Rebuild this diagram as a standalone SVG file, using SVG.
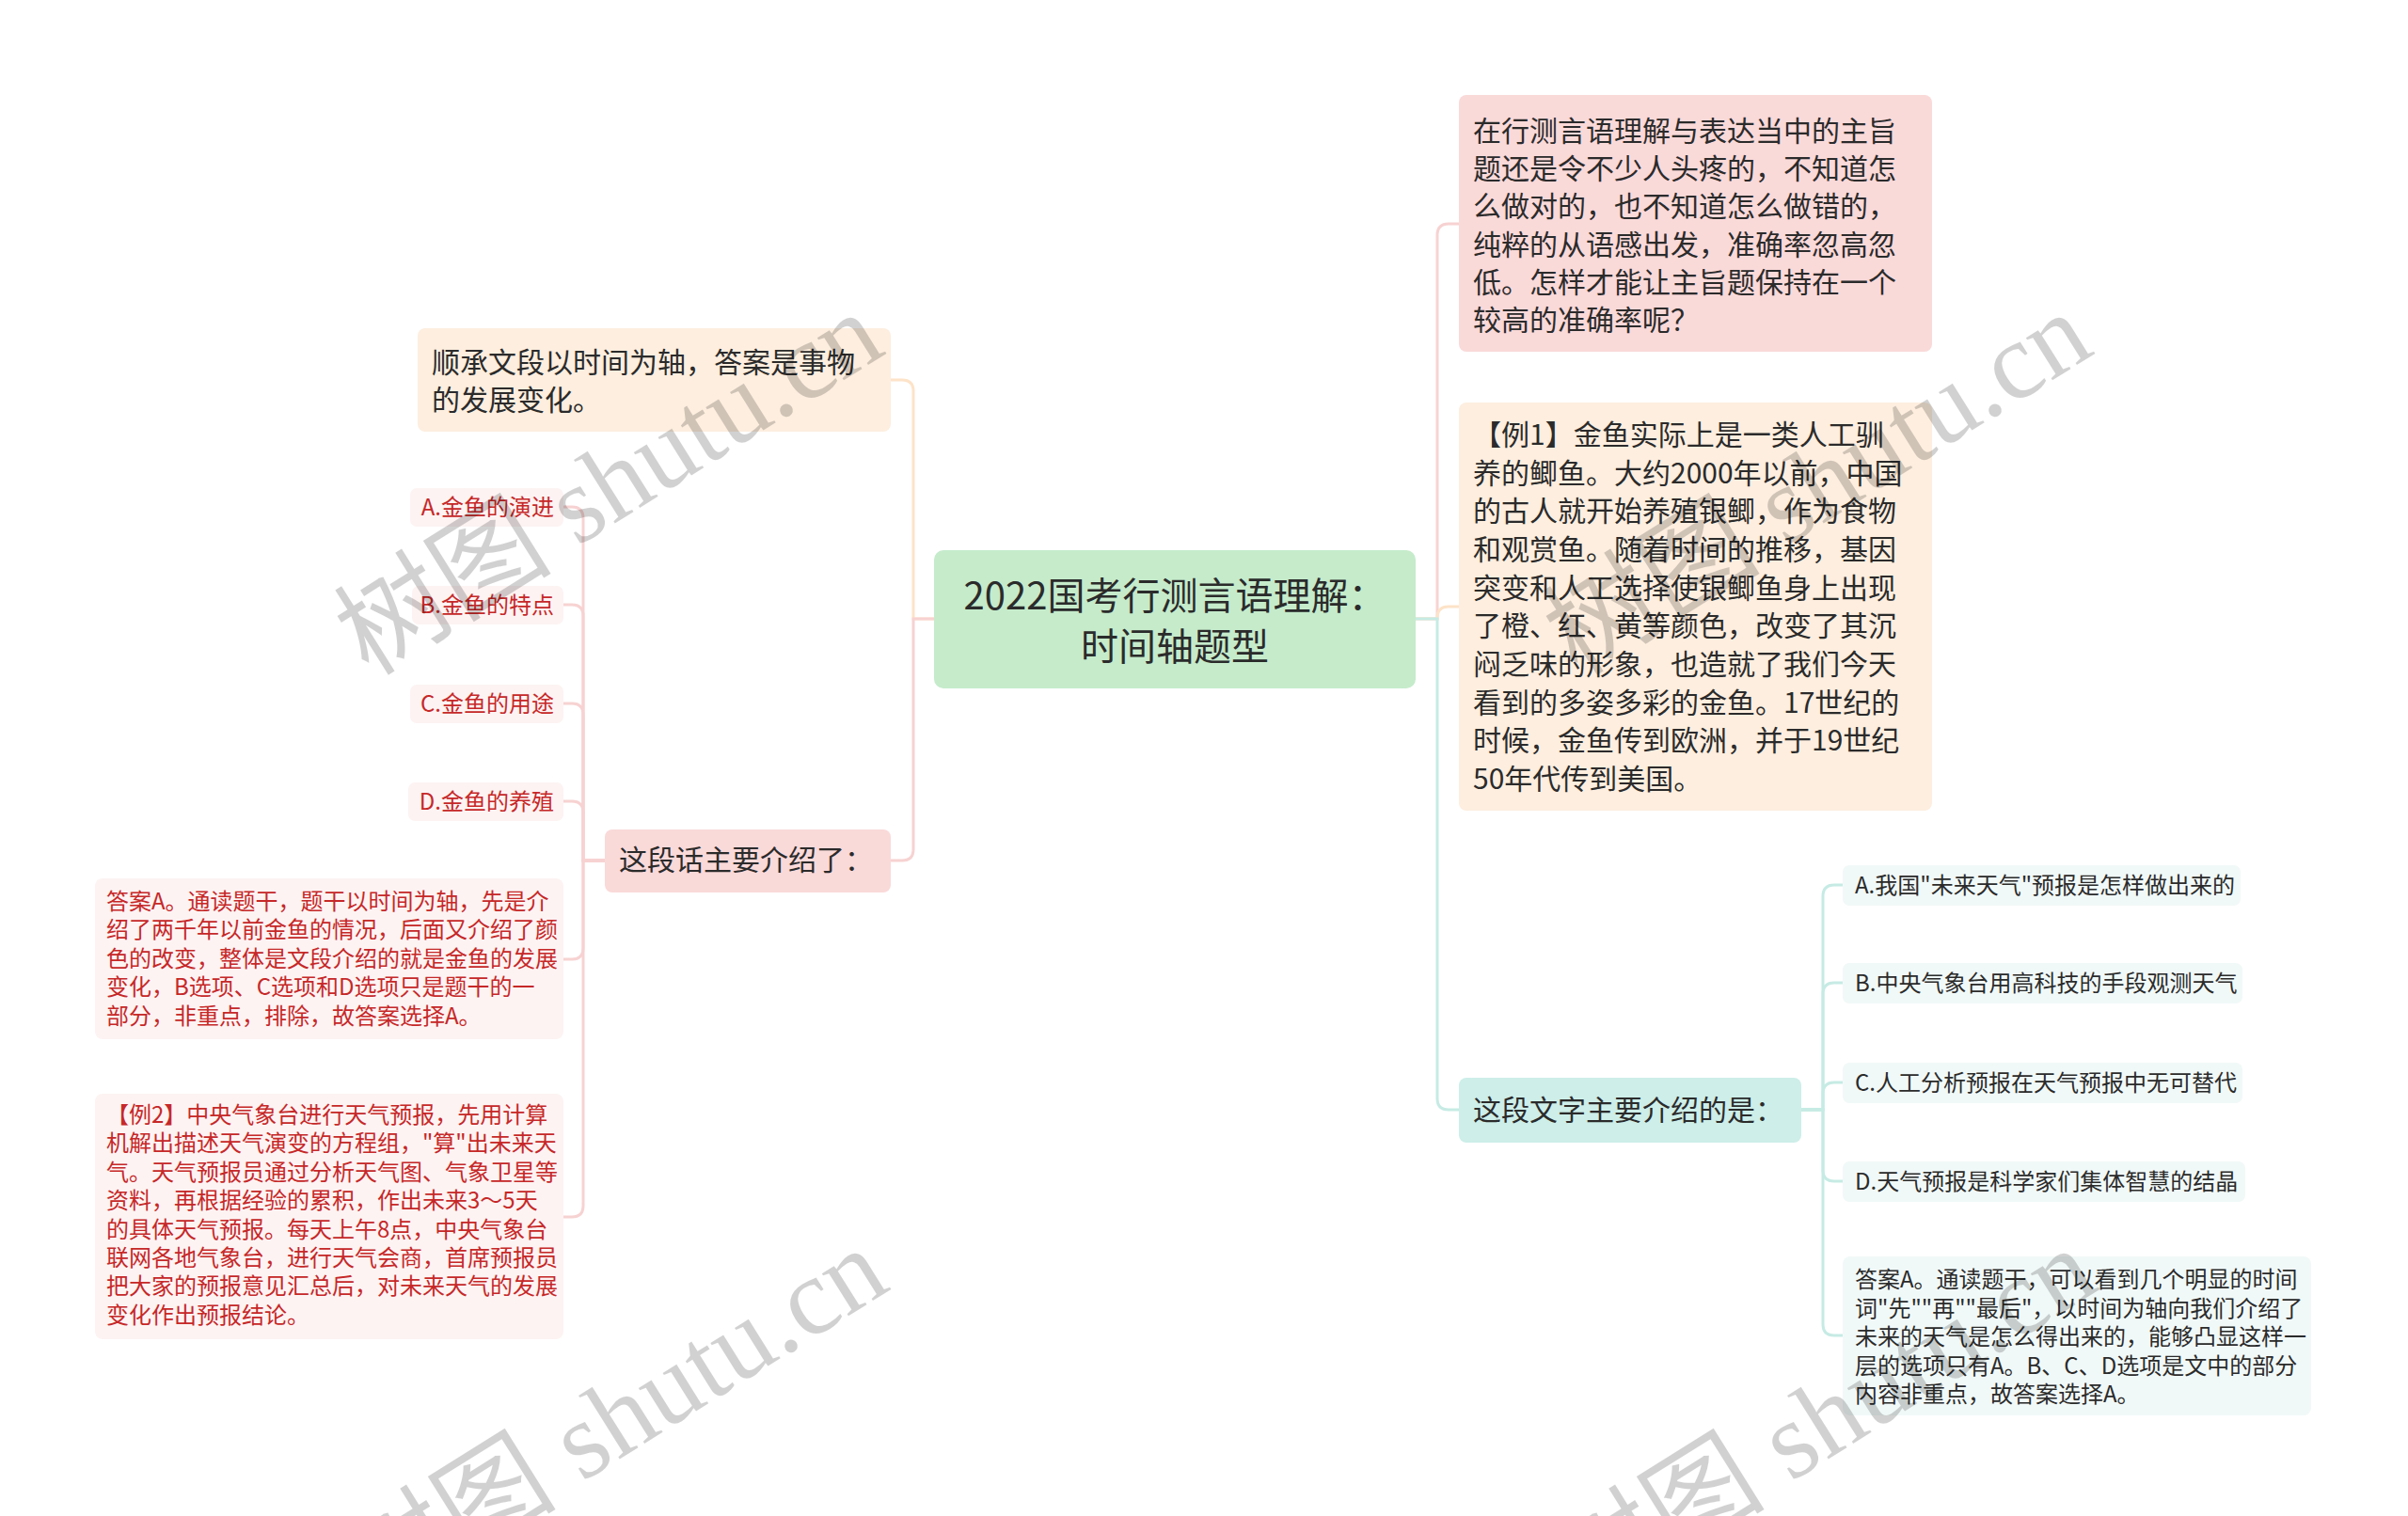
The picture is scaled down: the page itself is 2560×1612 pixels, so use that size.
<svg xmlns="http://www.w3.org/2000/svg" width="2560" height="1612" viewBox="0 0 2560 1612">
<style>
  .t { font-family: "Noto Sans CJK SC", "Noto Sans", sans-serif; fill: #2b2b2b; }
  .t40 { font-size: 40px; }
  .t30 { font-size: 30px; }
  .t24 { font-size: 24px; }
  .red { fill: #c62828; }
  .root { fill: #c5ebcb; }
  .peach { fill: #fdeedf; }
  .pink { fill: #fad9d9; }
  .teal { fill: #cdeee9; }
  .lpink { fill: #fdf3f3; }
  .lteal { fill: #f1f9f8; }
  .c { fill: none; stroke-width: 3; stroke-linecap: round; }
  .cpeach { stroke: #fde3c8; }
  .cpink { stroke: #f7d2d2; }
  .cteal { stroke: #c6ebe4; }
  .wm { font-family: "Liberation Serif", "Noto Sans CJK SC", serif; font-size: 116px; fill: #000; fill-opacity: 0.18; }
</style>
<rect width="2560" height="1612" fill="#ffffff"/>

<g id="connectors">
  <!-- root to left -->
  <path class="c cpeach" d="M993,658 H971 V416 Q971,404 959,404 H947"/>
  <path class="c cpink" d="M993,658 H971 V903 Q971,915 959,915 H947"/>
  <!-- root to right -->
  <path class="c cpink" d="M1505,658 H1528 V250 Q1528,238 1540,238 H1551"/>
  <path class="c cpeach" d="M1505,658 H1528 V657 Q1528,645 1540,645 H1551"/>
  <path class="c cteal" d="M1505,658 H1528 V1168 Q1528,1180 1540,1180 H1551"/>
  <!-- left leaves -->
  <path class="c cpink" d="M643,915 H620 V551 Q620,539 608,539 H599"/>
  <path class="c cpink" d="M643,915 H620 V655 Q620,643 608,643 H599"/>
  <path class="c cpink" d="M643,915 H620 V760 Q620,748 608,748 H599"/>
  <path class="c cpink" d="M643,915 H620 V864 Q620,852 608,852 H599"/>
  <path class="c cpink" d="M643,915 H620 V1008 Q620,1020 608,1020 H599"/>
  <path class="c cpink" d="M643,915 H620 V1282 Q620,1294 608,1294 H599"/>
  <!-- right leaves -->
  <path class="c cteal" d="M1915,1180 H1938 V953 Q1938,941 1950,941 H1959"/>
  <path class="c cteal" d="M1915,1180 H1938 V1057 Q1938,1045 1950,1045 H1959"/>
  <path class="c cteal" d="M1915,1180 H1938 V1163 Q1938,1151 1950,1151 H1959"/>
  <path class="c cteal" d="M1915,1180 H1938 V1244 Q1938,1256 1950,1256 H1959"/>
  <path class="c cteal" d="M1915,1180 H1938 V1408 Q1938,1420 1950,1420 H1959"/>
</g>

<g id="root">
  <rect class="root" x="993" y="585" width="512" height="147" rx="10"/>
  <text class="t t40" text-anchor="middle"><tspan x="1249" y="648">2022国考行测言语理解：</tspan><tspan x="1249" y="702">时间轴题型</tspan></text>
</g>

<g id="node-shuncheng">
  <rect class="peach" x="444" y="349" width="503" height="110" rx="8"/>
  <text class="t t30"><tspan x="459" y="396">顺承文段以时间为轴，答案是事物</tspan><tspan x="459" y="436">的发展变化。</tspan></text>
</g>

<g id="node-zheduanhua">
  <rect class="pink" x="643" y="882" width="304" height="67" rx="8"/>
  <text class="t t30" x="658" y="925">这段话主要介绍了：</text>
</g>

<g id="leaf-left-a">
  <rect class="lpink" x="436" y="519" width="163" height="41" rx="7"/>
  <text class="t t24 red" x="589" y="548" text-anchor="end">A.金鱼的演进</text>
</g>
<g id="leaf-left-b">
  <rect class="lpink" x="438" y="623" width="161" height="41" rx="7"/>
  <text class="t t24 red" x="589" y="652" text-anchor="end">B.金鱼的特点</text>
</g>
<g id="leaf-left-c">
  <rect class="lpink" x="436" y="728" width="163" height="41" rx="7"/>
  <text class="t t24 red" x="589" y="757" text-anchor="end">C.金鱼的用途</text>
</g>
<g id="leaf-left-d">
  <rect class="lpink" x="434" y="832" width="165" height="41" rx="7"/>
  <text class="t t24 red" x="589" y="861" text-anchor="end">D.金鱼的养殖</text>
</g>

<g id="leaf-left-answer">
  <rect class="lpink" x="101" y="934" width="498" height="171" rx="8"/>
  <text class="t t24 red">
    <tspan x="113" y="967">答案A。通读题干，题干以时间为轴，先是介</tspan>
    <tspan x="113" y="997">绍了两千年以前金鱼的情况，后面又介绍了颜</tspan>
    <tspan x="113" y="1028">色的改变，整体是文段介绍的就是金鱼的发展</tspan>
    <tspan x="113" y="1058">变化，B选项、C选项和D选项只是题干的一</tspan>
    <tspan x="113" y="1089">部分，非重点，排除，故答案选择A。</tspan>
  </text>
</g>

<g id="leaf-left-example2">
  <rect class="lpink" x="101" y="1163" width="498" height="261" rx="8"/>
  <text class="t t24 red">
    <tspan x="113" y="1194">【例2】中央气象台进行天气预报，先用计算</tspan>
    <tspan x="113" y="1224">机解出描述天气演变的方程组，"算"出未来天</tspan>
    <tspan x="113" y="1255">气。天气预报员通过分析天气图、气象卫星等</tspan>
    <tspan x="113" y="1285">资料，再根据经验的累积，作出未来3～5天</tspan>
    <tspan x="113" y="1316">的具体天气预报。每天上午8点，中央气象台</tspan>
    <tspan x="113" y="1346">联网各地气象台，进行天气会商，首席预报员</tspan>
    <tspan x="113" y="1376">把大家的预报意见汇总后，对未来天气的发展</tspan>
    <tspan x="113" y="1407">变化作出预报结论。</tspan>
  </text>
</g>

<g id="node-right-intro">
  <rect class="pink" x="1551" y="101" width="503" height="273" rx="8"/>
  <text class="t t30">
    <tspan x="1566" y="150">在行测言语理解与表达当中的主旨</tspan>
    <tspan x="1566" y="190">题还是令不少人头疼的，不知道怎</tspan>
    <tspan x="1566" y="230">么做对的，也不知道怎么做错的，</tspan>
    <tspan x="1566" y="271">纯粹的从语感出发，准确率忽高忽</tspan>
    <tspan x="1566" y="311">低。怎样才能让主旨题保持在一个</tspan>
    <tspan x="1566" y="351">较高的准确率呢？</tspan>
  </text>
</g>

<g id="node-right-example1">
  <rect class="peach" x="1551" y="428" width="503" height="434" rx="8"/>
  <text class="t t30">
    <tspan x="1566" y="473">【例1】金鱼实际上是一类人工驯</tspan>
    <tspan x="1566" y="514">养的鲫鱼。大约2000年以前，中国</tspan>
    <tspan x="1566" y="554">的古人就开始养殖银鲫，作为食物</tspan>
    <tspan x="1566" y="595">和观赏鱼。随着时间的推移，基因</tspan>
    <tspan x="1566" y="636">突变和人工选择使银鲫鱼身上出现</tspan>
    <tspan x="1566" y="676">了橙、红、黄等颜色，改变了其沉</tspan>
    <tspan x="1566" y="717">闷乏味的形象，也造就了我们今天</tspan>
    <tspan x="1566" y="758">看到的多姿多彩的金鱼。17世纪的</tspan>
    <tspan x="1566" y="798">时候，金鱼传到欧洲，并于19世纪</tspan>
    <tspan x="1566" y="839">50年代传到美国。</tspan>
  </text>
</g>

<g id="node-zheduanwenzi">
  <rect class="teal" x="1551" y="1146" width="364" height="69" rx="8"/>
  <text class="t t30" x="1566" y="1191">这段文字主要介绍的是：</text>
</g>

<g id="leaf-right-a">
  <rect class="lteal" x="1959" y="920" width="423" height="43" rx="7"/>
  <text class="t t24" x="1972" y="950">A.我国"未来天气"预报是怎样做出来的</text>
</g>
<g id="leaf-right-b">
  <rect class="lteal" x="1959" y="1024" width="425" height="43" rx="7"/>
  <text class="t t24" x="1972" y="1054">B.中央气象台用高科技的手段观测天气</text>
</g>
<g id="leaf-right-c">
  <rect class="lteal" x="1959" y="1130" width="425" height="43" rx="7"/>
  <text class="t t24" x="1972" y="1160">C.人工分析预报在天气预报中无可替代</text>
</g>
<g id="leaf-right-d">
  <rect class="lteal" x="1959" y="1235" width="428" height="43" rx="7"/>
  <text class="t t24" x="1972" y="1265">D.天气预报是科学家们集体智慧的结晶</text>
</g>

<g id="leaf-right-answer">
  <rect class="lteal" x="1959" y="1336" width="498" height="169" rx="8"/>
  <text class="t t24">
    <tspan x="1972" y="1369">答案A。通读题干，可以看到几个明显的时间</tspan>
    <tspan x="1972" y="1400">词"先""再""最后"，以时间为轴向我们介绍了</tspan>
    <tspan x="1972" y="1430">未来的天气是怎么得出来的，能够凸显这样一</tspan>
    <tspan x="1972" y="1461">层的选项只有A。B、C、D选项是文中的部分</tspan>
    <tspan x="1972" y="1491">内容非重点，故答案选择A。</tspan>
  </text>
</g>

<g id="watermark">
  <text class="wm" text-anchor="end" transform="translate(944,375) rotate(-32)">树图 shutu.cn</text>
  <text class="wm" text-anchor="end" transform="translate(2229,375) rotate(-32)">树图 shutu.cn</text>
  <text class="wm" text-anchor="end" transform="translate(949,1370) rotate(-32)">树图 shutu.cn</text>
  <text class="wm" text-anchor="end" transform="translate(2234,1370) rotate(-32)">树图 shutu.cn</text>
</g>
</svg>
